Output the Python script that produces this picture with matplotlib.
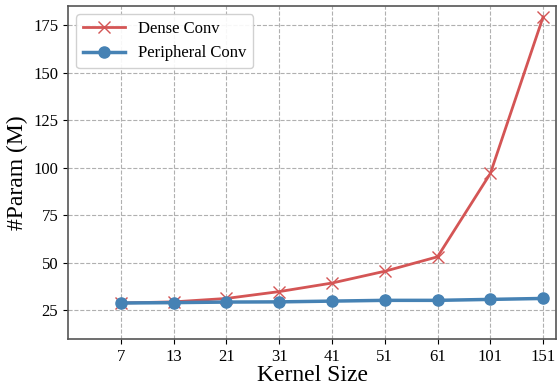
import matplotlib
matplotlib.use("Agg")
import matplotlib.pyplot as plt

kernel_sizes = ["7", "13", "21", "31", "41", "51", "61", "101", "151"]
dense_conv = [28.9, 29.5, 31.3, 34.9, 39.4, 45.6, 53.2, 97.0, 179.4]
peripheral_conv = [28.9, 29.1, 29.4, 29.5, 29.9, 30.3, 30.3, 30.8, 31.3]

plt.rcParams['font.family'] = ['Liberation Serif', 'DejaVu Serif']

fig = plt.figure(figsize=(5.58, 3.83), dpi=100)
ax = fig.add_axes([0.122, 0.115, 0.875, 0.869])
x = list(range(len(kernel_sizes)))
ax.plot(x, dense_conv, color='#d45555', lw=2, marker='x', ms=8, mew=1.0, label='Dense Conv', zorder=3)
ax.plot(x, peripheral_conv, color='#4682b4', lw=2.5, marker='o', ms=8, label='Peripheral Conv', zorder=4)
ax.set_xticks(x)
ax.set_xticklabels(kernel_sizes)
ax.set_xlim(-1, 8.25)
ax.set_ylim(10, 185)
ax.set_yticks([25, 50, 75, 100, 125, 150, 175])
ax.tick_params(labelsize=12)
ax.grid(True, linestyle='--', color='#b0b0b0', lw=0.8)
ax.set_axisbelow(True)
for s in ax.spines.values():
    s.set_color('#555555')
    s.set_linewidth(1.2)
ax.set_xlabel('Kernel Size', fontsize=17, labelpad=0)
ax.set_ylabel('#Param (M)', fontsize=17, labelpad=4)
ax.legend(loc='upper left', fontsize=12, handlelength=2.5, framealpha=0.9, fancybox=True)
fig.savefig('out.png', dpi=100)
